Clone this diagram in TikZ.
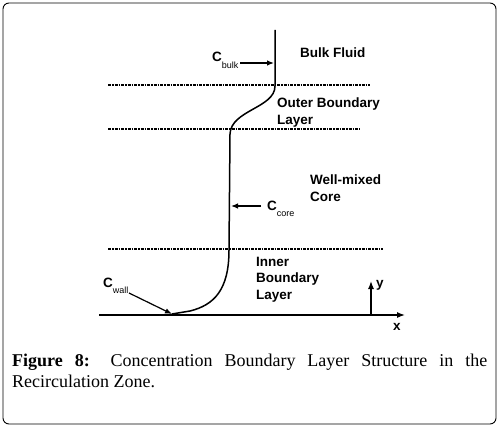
\documentclass[tikz,border=0pt]{standalone}
\usepackage{fontspec}
\setmainfont{Liberation Serif}
\setsansfont{Liberation Sans}
\usetikzlibrary{arrows.meta,positioning}
\newcommand{\zonefont}{\fontsize{13.5}{16.5}\selectfont\sffamily\bfseries}
\newcommand{\conc}[1]{C\raisebox{-6.5pt}{\fontsize{9}{9}\selectfont\mdseries #1}}

\begin{document}
\begin{tikzpicture}[
  x=1pt, y=-1pt,
  zone/.style={font=\zonefont, inner sep=0pt, anchor=north west, align=left},
  clabel/.style={font=\zonefont, inner sep=0pt, anchor=base west},
  arrow/.style={-{Latex[length=7pt,width=5.5pt]}, line width=1.2pt},
  axis/.style={-{Latex[length=8pt,width=6pt]}, line width=1.3pt},
  level/.style={line width=1.2pt, dash pattern=on 3pt off 1pt on 1.5pt off 1pt, black},
  profile/.style={line width=1.5pt},
  frame/.style={draw, line width=0.9pt, rounded corners=6pt}
]
\useasboundingbox (0,0) rectangle (500,428);
\draw[frame] (3,3) rectangle (496,424);

\draw[level] (108,85) -- (370,85);
\draw[level] (108,129) -- (360,129);
\draw[level] (108,249) -- (383,249);

\coordinate (ptop) at (275,30);
\coordinate (pouter) at (275,86);
\coordinate (pcoretop) at (230,134);
\coordinate (pcorebot) at (229,250);
\coordinate (pwall) at (172,314);
\draw[profile] (ptop) -- (pouter)
  .. controls (275,108) and (231,110) .. (pcoretop) -- (pcorebot)
  .. controls (229,290) and (214,305) .. (190,311)
  .. controls (181,313) .. (pwall);

\coordinate (xstart) at (99,315);
\coordinate (xend) at (405,315);
\coordinate (ybase) at (371,315);
\coordinate (yend) at (371,281);
\draw[axis] (xstart) -- (xend);
\draw[axis] (ybase) -- (yend);
\node[clabel] (xlab) at (393,330) {x};
\node[clabel] (ylab) at (376,287) {y};

\node[zone] (bulk) at (300,48) {Bulk Fluid};
\node[zone] (outer) at (277,98) {Outer Boundary\\Layer};
\node[zone] (core) at (310,175) {Well-mixed\\Core};
\node[zone] (inner) at (256,257) {Inner\\Boundary\\Layer};

\node[clabel] (cbulk) at (212,62) {\conc{bulk}};
\node[clabel] (ccore) at (267,210) {\conc{core}};
\node[clabel] (cwall) at (103,287) {\conc{wall}};
\coordinate (bulkfrom) at (240,63);
\coordinate (bulkto) at (274,63);
\coordinate (corefrom) at (261,206);
\coordinate (coreto) at (231,206);
\coordinate (wallfrom) at (129,293);
\draw[arrow] (bulkfrom) -- (bulkto);
\draw[arrow] (corefrom) -- (coreto);
\draw[arrow] (wallfrom) -- (pwall);

\node[anchor=north west, inner sep=0pt, text width=475pt, align=justify,
      font=\fontsize{18}{21}\selectfont] (caption) at (12,354)
  {\textbf{Figure 8:} Concentration Boundary Layer Structure in the\linebreak Recirculation Zone.};
\end{tikzpicture}
\end{document}
